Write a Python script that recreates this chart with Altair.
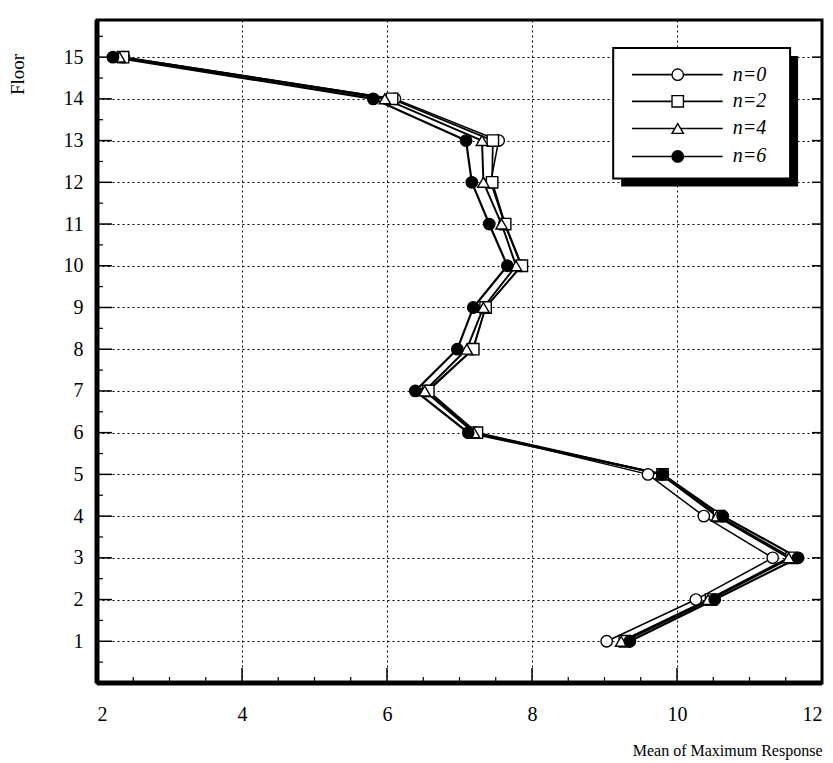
import altair as alt
import pandas as pd

# ---------------- data ----------------
floors = list(range(1, 16))
series = ["n=0", "n=2", "n=4", "n=6"]
n0 = [9.03, 10.26, 11.32, 10.37, 9.60, 7.22, 6.55, 7.18, 7.36, 7.85, 7.62, 7.43, 7.54, 6.11, 2.37]
n2 = [9.28, 10.47, 11.58, 10.58, 9.80, 7.24, 6.57, 7.19, 7.36, 7.86, 7.63, 7.45, 7.46, 6.07, 2.36]
n4 = [9.23, 10.43, 11.54, 10.55, 9.78, 7.20, 6.52, 7.10, 7.33, 7.78, 7.58, 7.33, 7.31, 5.97, 2.31]
n6 = [9.35, 10.52, 11.67, 10.63, 9.80, 7.12, 6.39, 6.97, 7.19, 7.66, 7.41, 7.17, 7.09, 5.81, 2.22]

x_ticks = [2, 4, 6, 8, 10, 12]
x_minor = [2.5, 3, 3.5, 4.5, 5, 5.5, 6.5, 7, 7.5, 8.5, 9, 9.5, 10.5, 11, 11.5]
y_ticks = list(range(1, 16))
y_minor = [0.5, 1.5, 2.5, 3.5, 4.5, 5.5, 6.5, 7.5, 8.5, 9.5, 10.5, 11.5, 12.5, 13.5, 14.5, 15.5]

shapes = ["circle", "square", "triangle-up", "circle"]
fills = ["white", "white", "white", "black"]
widths = [1.5, 2.2, 2.2, 2.4]

# legend placement (data units)
leg_box = [9.12, 11.56, 12.09, 15.22]
leg_shadow = [9.23, 11.67, 11.90, 15.03]
leg_rows = [14.58, 13.94, 13.29, 12.62]
leg_line = [9.38, 10.63]
leg_marker_x = 10.01
leg_text_x = 10.77

FONT = "Liberation Serif"

rows = []
for name, vals in zip(series, [n0, n2, n4, n6]):
    for f, v in zip(floors, vals):
        rows.append({"series": name, "floor": f, "x": v})
df = pd.DataFrame(rows)

xs = alt.Scale(domain=[2, 12], nice=False, zero=False)
ys = alt.Scale(domain=[0, 15.89], nice=False, zero=False)
shape_scale = alt.Scale(domain=series, range=shapes)
fill_scale = alt.Scale(domain=series, range=fills)
width_scale = alt.Scale(domain=series, range=widths)

W, H = 725, 663

base = alt.Chart(df)

lines = base.mark_line(color="black").encode(
    x=alt.X("x:Q", scale=xs, axis=alt.Axis(
        values=x_ticks, title="Mean of Maximum Response", titleAnchor="end",
        titleAlign="right", titleFont=FONT, titleFontSize=16, titleFontWeight="normal",
        titleBaseline="alphabetic", titleY=72, labelPadding=21, format="d")),
    y=alt.Y("floor:Q", scale=ys, axis=alt.Axis(
        values=y_ticks, title="Floor", titleAngle=270, titleX=-80, titleY=54,
        titleAlign="center", titleBaseline="middle", titleFont=FONT, titleFontSize=19,
        titleFontWeight="normal", labelPadding=14)),
    detail="series:N",
    order="floor:Q",
    strokeWidth=alt.StrokeWidth("series:N", scale=width_scale, legend=None),
)

points = base.mark_point(size=130, stroke="black", strokeWidth=1.4, filled=False, opacity=1).encode(
    x=alt.X("x:Q", scale=xs),
    y=alt.Y("floor:Q", scale=ys),
    shape=alt.Shape("series:N", scale=shape_scale, legend=None),
    fill=alt.Fill("series:N", scale=fill_scale, legend=None),
)

# axis ticks drawn inward
xt = pd.DataFrame({"v": x_ticks[1:-1]})
xm = pd.DataFrame({"v": x_minor})
yt = pd.DataFrame({"v": y_ticks})
ym = pd.DataFrame({"v": y_minor})

xtick = alt.Chart(xt).mark_rule(color="black", strokeWidth=1.5).encode(
    x=alt.X("v:Q", scale=xs), y=alt.value(H), y2=alt.value(H - 15))
xmtick = alt.Chart(xm).mark_rule(color="black", strokeWidth=1.2).encode(
    x=alt.X("v:Q", scale=xs), y=alt.value(H), y2=alt.value(H - 6))
ytick = alt.Chart(yt).mark_rule(color="black", strokeWidth=1.5).encode(
    y=alt.Y("v:Q", scale=ys), x=alt.value(0), x2=alt.value(15))
ymtick = alt.Chart(ym).mark_rule(color="black", strokeWidth=1.2).encode(
    y=alt.Y("v:Q", scale=ys), x=alt.value(0), x2=alt.value(6))
yrtick = alt.Chart(yt).mark_rule(color="black", strokeWidth=1.5).encode(
    y=alt.Y("v:Q", scale=ys), x=alt.value(W), x2=alt.value(W - 10))

# heavier left and bottom frame edges
left_edge = alt.Chart(xt.head(1)).mark_rule(color="black", strokeWidth=5).encode(
    x=alt.value(0), y=alt.value(0), y2=alt.value(H))
bottom_edge = alt.Chart(xt.head(1)).mark_rule(color="black", strokeWidth=5).encode(
    x=alt.value(0), x2=alt.value(W), y=alt.value(H))

# legend
box_df = pd.DataFrame([{"x1": leg_shadow[0], "x2": leg_shadow[1], "y1": leg_shadow[2], "y2": leg_shadow[3]}])
shadow = alt.Chart(box_df).mark_rect(fill="black").encode(
    x=alt.X("x1:Q", scale=xs), x2="x2:Q", y=alt.Y("y1:Q", scale=ys), y2="y2:Q")
box_df2 = pd.DataFrame([{"x1": leg_box[0], "x2": leg_box[1], "y1": leg_box[2], "y2": leg_box[3]}])
box = alt.Chart(box_df2).mark_rect(fill="white", stroke="black", strokeWidth=2).encode(
    x=alt.X("x1:Q", scale=xs), x2="x2:Q", y=alt.Y("y1:Q", scale=ys), y2="y2:Q")

leg_df = pd.DataFrame({
    "series": series, "y": leg_rows,
    "lx1": [leg_line[0]] * 4, "lx2": [leg_line[1]] * 4,
    "mx": [leg_marker_x] * 4, "tx": [leg_text_x] * 4,
})
leg_lines = alt.Chart(leg_df).mark_rule(color="black", strokeWidth=1.6).encode(
    x=alt.X("lx1:Q", scale=xs), x2="lx2:Q", y=alt.Y("y:Q", scale=ys))
leg_pts = alt.Chart(leg_df).mark_point(size=130, stroke="black", strokeWidth=1.4, opacity=1).encode(
    x=alt.X("mx:Q", scale=xs), y=alt.Y("y:Q", scale=ys),
    shape=alt.Shape("series:N", scale=shape_scale, legend=None),
    fill=alt.Fill("series:N", scale=fill_scale, legend=None),
)
leg_text = alt.Chart(leg_df).mark_text(
    align="left", baseline="middle", font=FONT, fontSize=20, fontStyle="italic", color="black"
).encode(x=alt.X("tx:Q", scale=xs), y=alt.Y("y:Q", scale=ys), text="series:N")

chart = alt.layer(
    lines, points, xtick, xmtick, ytick, ymtick, yrtick, left_edge, bottom_edge,
    shadow, box, leg_lines, leg_pts, leg_text,
).properties(
    width=W, height=H,
    autosize=alt.AutoSizeParams(type="none"),
    padding={"left": 97, "top": 20, "right": 11, "bottom": 80},
    background="white",
).configure_view(
    stroke="black", strokeWidth=3
).configure_axis(
    grid=True, gridColor="black", gridDash=[2, 3], gridWidth=1, gridOpacity=1,
    domain=False, ticks=False,
    labelFont=FONT, labelFontSize=20, labelColor="black",
    titleColor="black",
)

chart.save("out.html", embed_options={"renderer": "svg", "actions": False})
